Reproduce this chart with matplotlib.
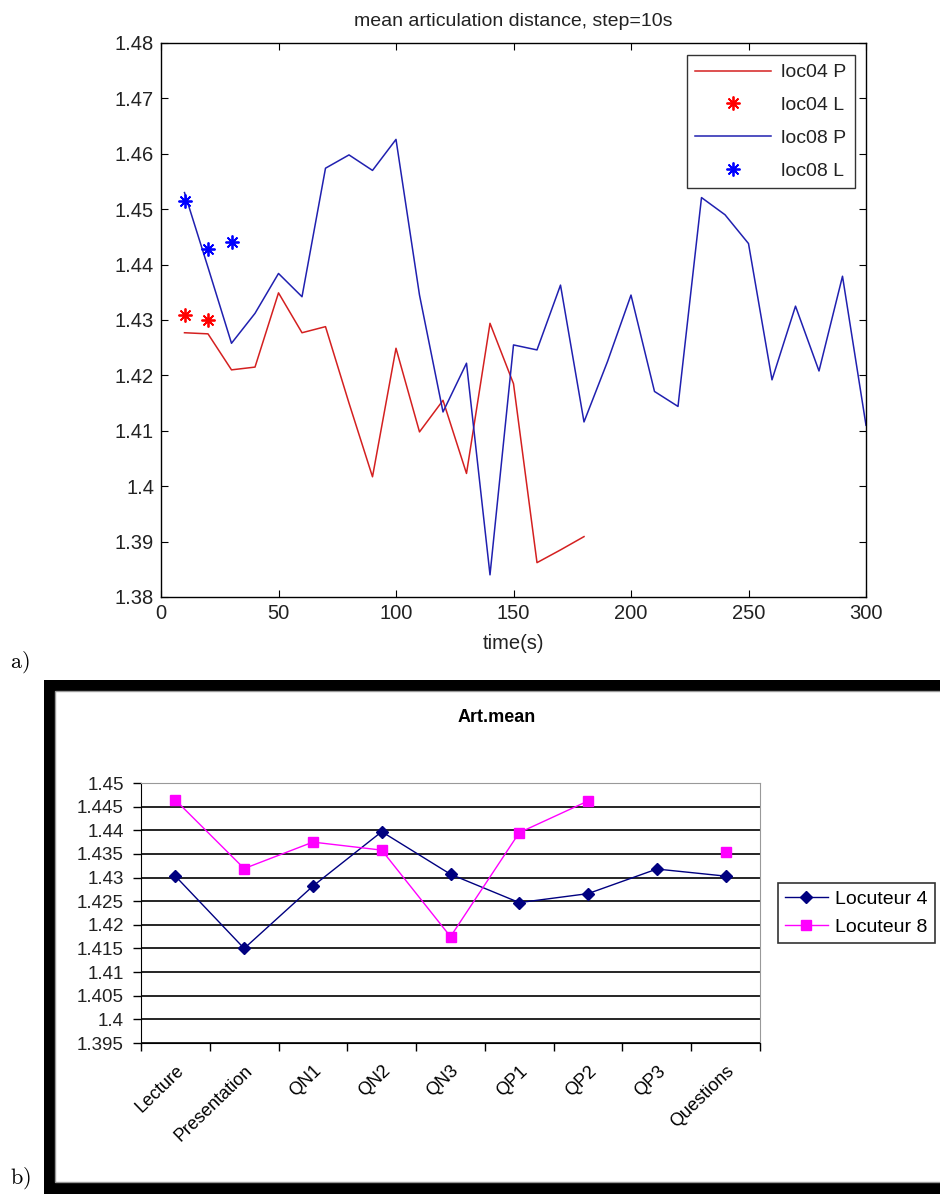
import matplotlib
matplotlib.use("Agg")
import matplotlib.pyplot as plt
import numpy as np
from matplotlib.patches import Rectangle
from matplotlib.ticker import FormatStrFormatter, FixedLocator

plt.rcParams["font.family"] = ["Liberation Sans", "DejaVu Sans"]

# panel a) : mean articulation distance, step=10s
t_loc04 = [10, 20, 30, 40, 50, 60, 70, 80, 90, 100, 110, 120, 130, 140, 150, 160, 170, 180]
p_loc04 = [1.4277, 1.4275, 1.4210, 1.4215, 1.4349, 1.4277, 1.4288, 1.4150, 1.4017, 1.4249,
           1.4098, 1.4155, 1.4023, 1.4294, 1.4185, 1.3862, 1.3885, 1.3909]
t_loc08 = [10, 20, 30, 40, 50, 60, 70, 80, 90, 100, 110, 120, 130, 140, 150, 160, 170, 180,
           190, 200, 210, 220, 230, 240, 250, 260, 270, 280, 290, 300]
p_loc08 = [1.4530, 1.4395, 1.4258, 1.4312, 1.4384, 1.4342, 1.4574, 1.4598, 1.4570, 1.4626,
           1.4345, 1.4134, 1.4222, 1.3840, 1.4255, 1.4246, 1.4363, 1.4116, 1.4225, 1.4345,
           1.4171, 1.4144, 1.4521, 1.4490, 1.4438, 1.4192, 1.4325, 1.4208, 1.4379, 1.4110]
t_l04 = [10, 20]
l_loc04 = [1.4309, 1.4300]
t_l08 = [10, 20, 30]
l_loc08 = [1.4515, 1.4428, 1.4440]

# panel b) : Art.mean
categories = ["Lecture", "Presentation", "QN1", "QN2", "QN3", "QP1", "QP2", "QP3", "Questions"]
locuteur4 = [1.4303, 1.4150, 1.4282, 1.4397, 1.4307, 1.4247, 1.4266, 1.4318, 1.4303]
locuteur8 = [1.4464, 1.4319, 1.4375, 1.4358, 1.4175, 1.4395, 1.4462, np.nan, 1.4355]

W, H = 940, 1194
fig = plt.figure(figsize=(W / 100, H / 100), dpi=100)


def fx(px):
    return px / W


def fy(py):
    return 1 - py / H


# ---------- a) ----------
star = (8, 2, 0)  # matlab-like asterisk
ax1 = fig.add_axes([fx(161), fy(597), fx(866) - fx(161), fy(43) - fy(597)])
ax1.set_zorder(3)
ax1.plot(t_loc04, p_loc04, color="#d42020", lw=1.1, label="loc04 P")
ax1.plot(t_l04, l_loc04, ls="none", marker=star, ms=10, mew=1.3, mec="#ff0000",
         label="loc04 L")
ax1.plot(t_loc08, p_loc08, color="#2020b0", lw=1.1, label="loc08 P")
ax1.plot(t_l08, l_loc08, ls="none", marker=star, ms=10, mew=1.3, mec="#0000ff",
         label="loc08 L")
ax1.set_xlim(0, 300)
ax1.set_ylim(1.38, 1.48)
ax1.set_xticks(np.arange(0, 301, 50))
ax1.set_yticks(np.arange(1.38, 1.4801, 0.01))
ax1.yaxis.set_major_formatter(FormatStrFormatter("%g"))
ax1.tick_params(direction="in", top=True, right=True, labelsize=14.5, length=5, pad=5,
                labelcolor="#222222")
for s in ax1.spines.values():
    s.set_linewidth(1.0)
ax1.set_title("mean articulation distance, step=10s", fontsize=14, pad=12, color="#222222")
ax1.set_xlabel("time(s)", fontsize=14.5, labelpad=8, color="#222222")
leg1 = ax1.legend(loc="upper right", bbox_to_anchor=(1 - 11 / 705, 1 - 12 / 554),
                  borderaxespad=0, fontsize=14, frameon=True, fancybox=False,
                  edgecolor="black", handlelength=3.9, borderpad=0.45, labelspacing=0.78,
                  handletextpad=0.5)
leg1.get_frame().set_linewidth(1.0)
for t in leg1.get_texts():
    t.set_color("#222222")

fig.text(fx(10), fy(662), r"$\mathrm{a)}$", fontsize=16, va="center", math_fontfamily="cm")

# ---------- b) ----------
fig.patches.append(Rectangle((fx(44), 0), 1.0, fy(680), transform=fig.transFigure,
                             facecolor="black", edgecolor="none", zorder=0))
fig.patches.append(Rectangle((fx(55), fy(1182)), 1.0, fy(691) - fy(1182),
                             transform=fig.transFigure, facecolor="white",
                             edgecolor="#999999", lw=1.0, zorder=0))
fig.text(fx(10), fy(1178), r"$\mathrm{b)}$", fontsize=16, va="center", math_fontfamily="cm")

ax2 = fig.add_axes([fx(141), fy(1043), fx(760) - fx(141), fy(783) - fy(1043)])
ax2.set_zorder(3)
x = np.arange(len(categories))
ax2.plot(x, locuteur4, color="#000080", lw=1.0, marker="D", ms=6, label="Locuteur 4")
ax2.plot(x, locuteur8, color="#ff00ff", lw=1.0, marker="s", ms=7, label="Locuteur 8")
ax2.set_xlim(-0.5, len(categories) - 0.5)
ax2.set_ylim(1.395, 1.45)
yt = np.arange(1.395, 1.4501, 0.005)
ax2.set_yticks(yt)
ax2.set_yticklabels(["%g" % round(v, 3) for v in yt])
ax2.grid(axis="y", color="black", lw=1.2)
ax2.set_axisbelow(True)
ax2.set_xticks(x)
ax2.set_xticklabels(categories, rotation=44, ha="right", rotation_mode="anchor", fontsize=13)
ax2.xaxis.set_minor_locator(FixedLocator(np.arange(-0.5, len(categories), 1.0)))
ax2.tick_params(axis="x", which="major", length=0, pad=14)
ax2.tick_params(axis="x", which="minor", length=5.5, direction="out", width=1)
ax2.tick_params(axis="y", length=5.5, direction="out", labelsize=13.5, pad=7, width=1,
                labelcolor="#222222")
ax2.spines["left"].set_color("black")
ax2.spines["bottom"].set_color("black")
ax2.spines["top"].set_color("#999999")
ax2.spines["right"].set_color("#999999")
fig.text(fx(497), fy(718), "Art.mean", fontsize=13, fontweight="bold", ha="center", va="center")
leg2 = fig.legend(loc="center left", bbox_to_anchor=(fx(778), fy(913)), borderaxespad=0,
                  fontsize=14, handles=ax2.get_lines(), frameon=True, fancybox=False,
                  edgecolor="black", handlelength=2.2, borderpad=0.35, labelspacing=0.55,
                  handletextpad=0.4)
leg2.get_frame().set_linewidth(1.2)
leg2.set_zorder(4)

fig.savefig("out.png", dpi=100)
